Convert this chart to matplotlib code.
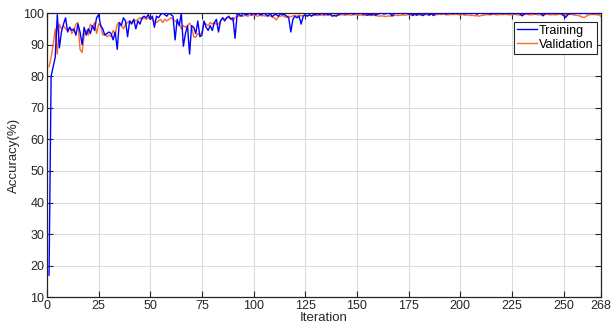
import matplotlib
matplotlib.use("Agg")
import matplotlib.pyplot as plt
import numpy as np

plt.rcParams['font.family'] = ['Liberation Sans', 'DejaVu Sans']

iterations = list(range(1, 269))

training = [
    17, 80, 83, 86, 99.5, 89, 94, 96.5, 98.5, 94,
    95.5, 94.5, 95, 93, 96.5, 94, 90, 95.5, 93, 95,
    93.5, 96, 94.5, 98.5, 99.5, 96, 95, 93, 93.5, 94,
    93.5, 91.5, 94, 88.5, 97, 96, 98.5, 97.5, 92.5, 97.5,
    96.5, 98, 95, 97.5, 96.5, 98.5, 99, 98.5, 99.5, 98,
    99, 95.5, 99, 98.5, 99.5, 100, 99.5, 99, 100, 99.5,
    99, 91.5, 98, 96, 100, 89.5, 93.5, 96, 87, 96,
    95.5, 93.5, 97.5, 92.5, 93, 97.5, 95.5, 94.5, 96, 94.5,
    97, 98, 94, 97.5, 98.5, 97.5, 98.5, 99, 98, 98.5,
    92, 99.5, 99.5, 99, 100, 99.5, 99.5, 100, 99.5, 100,
    99.5, 100, 99.5, 99.5, 100, 99.5, 99, 100, 98.8, 99.5,
    99.5, 99, 99.8, 99.5, 99.5, 99, 98.5, 94, 98, 99,
    98.5, 99, 96.5, 99, 99.5, 99, 99.5, 99, 99.5, 99.5,
    99.8, 99.5, 100, 99.6, 99.8, 99.5, 99.8, 99.0, 99.2, 99.0,
    99.5, 99.8, 100, 99.7, 99.8, 99.8, 100, 99.7, 99.8, 100,
    99.8, 100, 99.6, 99.8, 99.3, 99.6, 99.4, 99.8, 99.3, 99.7,
    99.8, 100, 99.7, 99.8, 100, 99.8, 99.1, 99.8, 100, 99.8,
    100, 99.8, 99.9, 100, 99.7, 99.8, 99.2, 99.8, 99.3, 99.8,
    99.6, 99.2, 99.8, 99.9, 99.3, 99.8, 99.2, 99.8, 100, 99.8,
    99.9, 100, 99.7, 99.9, 100, 99.8, 99.9, 100, 99.8, 99.9,
    100, 99.7, 99.9, 100, 99.8, 99.9, 100, 99.6, 99.9, 100,
    99.8, 99.9, 100, 99.8, 99.7, 100, 99.8, 99.9, 100, 99.8,
    99.9, 100, 99.8, 99.9, 100, 99.8, 99.9, 100, 99.7, 99.1,
    99.8, 100, 99.8, 99.9, 100, 99.8, 99.9, 100, 99.8, 99.1,
    99.8, 100, 99.8, 99.9, 100, 99.8, 99.9, 100, 99.8, 99.2,
    98.6, 99.5, 99.8, 100, 99.8, 99.9, 100, 99.8, 99.9, 100,
    99.8, 99.9, 100, 99.8, 99.9, 100, 99.8, 100,
]

validation = [
    83, 86, 90, 95, 87, 96.5, 95, 96, 95, 94.5,
    95.5, 93.5, 94.5, 96.5, 97, 88.5, 87.5, 93, 94.5, 93,
    96.5, 95.5, 97, 93.5, 96.5, 96, 93, 93.5, 92.5, 93,
    92.5, 94.5, 93, 96.5, 97, 96, 95, 96.5, 97, 97.5,
    97, 98, 97.5, 98, 98.5, 98, 98.5, 98, 98.5, 98.5,
    98, 97.5, 97, 97.5, 98, 97, 98, 97.5, 98, 98.5,
    98, 97.5, 97, 96.5, 95, 96, 95.5, 96, 96.8, 95.5,
    92.5, 92.3, 93.5, 93, 94, 97, 96.5, 96, 97, 96.5,
    97, 96.5, 96.5, 97.5, 98.5, 98, 98.5, 98.5, 98.5, 97.5,
    98.5, 99, 99, 99.2, 99, 99.3, 99, 99.2, 99.3, 99.2,
    99.2, 99.0, 99.3, 99.1, 99.2, 99.0, 99.3, 99.1, 98.8, 98.5,
    97.8, 98.8, 99.0, 99.2, 98.8, 98.6, 99.0, 98.8, 99.1, 99.2,
    99.0, 99.3, 99.1, 99.2, 99.3, 99.1, 99.3, 99.2, 99.4, 99.3,
    99.2, 99.4, 99.3, 99.2, 99.4, 99.3, 99.4, 99.2, 99.3, 99.4,
    99.3, 99.4, 99.5, 99.3, 99.4, 99.5, 99.3, 99.4, 99.5, 99.4,
    99.3, 99.4, 99.3, 99.2, 99.4, 99.3, 99.2, 99.3, 99.2, 99.1,
    99.0, 99.1, 99.0, 98.9, 99.1, 99.0, 99.1, 99.2, 99.3, 99.2,
    99.3, 99.4, 99.3, 99.4, 99.5, 99.4, 99.3, 99.4, 99.5, 99.4,
    99.3, 99.4, 99.5, 99.4, 99.5, 99.6, 99.5, 99.4, 99.5, 99.6,
    99.5, 99.6, 99.5, 99.4, 99.5, 99.6, 99.5, 99.6, 99.5, 99.4,
    99.5, 99.4, 99.3, 99.4, 99.2, 99.3, 99.1, 99.2, 99.0, 99.2,
    99.3, 99.4, 99.5, 99.4, 99.5, 99.6, 99.5, 99.4, 99.5, 99.6,
    99.5, 99.6, 99.5, 99.4, 99.5, 99.6, 99.5, 99.4, 99.3, 99.4,
    99.5, 99.6, 99.5, 99.4, 99.5, 99.6, 99.5, 99.4, 99.5, 99.4,
    99.5, 99.6, 99.5, 99.4, 99.5, 99.4, 99.5, 99.6, 99.5, 99.3,
    99.4, 99.5, 99.6, 99.5, 99.4, 99.3, 99.2, 99.0, 98.7, 98.6,
    99.0, 99.4, 99.5, 99.6, 99.5, 99.4, 99.5, 99.0,
]

xticks = [0, 25, 50, 75, 100, 125, 150, 175, 200, 225, 250, 268]
yticks = [10, 20, 30, 40, 50, 60, 70, 80, 90, 100]

fig = plt.figure(figsize=(6.14, 3.26), dpi=100)
ax = fig.add_axes([0.0765, 0.088, 0.902, 0.872])

ax.plot(iterations, training, color='#0000FF', lw=1.0, label='Training', zorder=3)
ax.plot(iterations, validation, color='#FF6A2B', lw=1.0, label='Validation', zorder=2)

ax.set_xlim(0, 268)
ax.set_ylim(10, 100)
ax.set_xticks(xticks)
ax.set_yticks(yticks)
ax.grid(True, color='#dcdcdc', lw=0.8)
ax.set_axisbelow(True)
ax.tick_params(direction='in', top=True, right=True, labelsize=9,
               colors='#262626', length=4, width=0.8, pad=2)
for s in ax.spines.values():
    s.set_color('#262626')
    s.set_linewidth(0.9)

ax.set_xlabel('Iteration', fontsize=9.5, color='#262626', labelpad=0)
ax.set_ylabel('Accuracy(%)', fontsize=9.5, color='#262626', labelpad=2)

leg = ax.legend(loc='upper right', bbox_to_anchor=(0.993, 0.97), fontsize=9,
                fancybox=False, framealpha=1, edgecolor='#262626',
                handlelength=1.6, handletextpad=0.2, borderpad=0.25,
                labelspacing=0.15, borderaxespad=0.0)
leg.get_frame().set_linewidth(0.8)

fig.savefig('out.png', dpi=100)
